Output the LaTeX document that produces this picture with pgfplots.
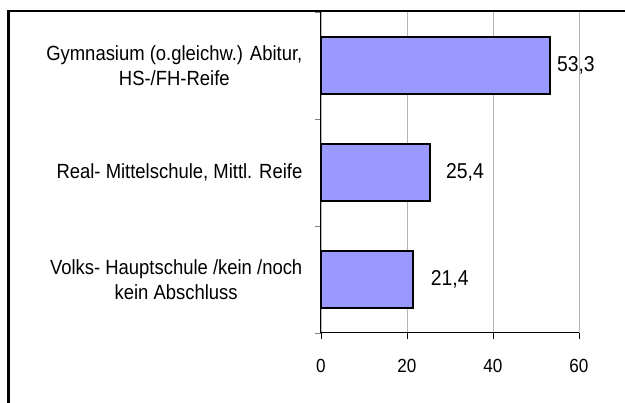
\documentclass[border=0pt]{standalone}
\usepackage{pgfplots}
\usepackage{pgfplotstable}
\pgfplotsset{compat=1.18}
\usepackage{fontspec}
\setmainfont{Liberation Sans}[FakeStretch=0.9]
\definecolor{barfill}{HTML}{9999FF}
\definecolor{gridgray}{HTML}{B4B4B4}
\pgfplotstableread{
y x off lab
1 53.3 6 53,3
2 25.4 15 25,4
3 21.4 17 21,4
}\datatab
\begin{document}
\begin{tikzpicture}
\path[use as bounding box] (0,0) rectangle (625pt,403pt);
\draw[line width=2.2pt] (8.5pt,0pt) -- (8.5pt,393pt);
\draw[line width=2.2pt] (7.5pt,392pt) -- (625pt,392pt);
\begin{axis}[
  at={(321pt,70pt)}, anchor=south west,
  scale only axis, width=258pt, height=321pt,
  xmin=0, xmax=60, ymin=0.5, ymax=3.5,
  y dir=reverse,
  axis lines*=left,
  axis line style={black, line width=1pt},
  xtick={0,20,40,60},
  xmajorgrids,
  grid style={gridgray, line width=0.8pt},
  ytick={1,2,3},
  yticklabels={{Gymnasium (o.gleichw.) Abitur,\\HS-/FH-Reife},{Real- Mittelschule, Mittl. Reife},{Volks- Hauptschule /kein /noch\\kein Abschluss}},
  minor ytick={0.5,1.5,2.5,3.5},
  tick align=outside,
  major tick length=6pt,
  minor tick length=6pt,
  y tick style={draw=none},
  minor y tick style={draw=gray, line width=0.8pt},
  x tick style={black, line width=0.8pt},
  /pgf/number format/assume math mode=true,
  xticklabel style={font=\fontsize{19}{22}\selectfont, inner sep=0pt, anchor=north, yshift=-20pt},
  yticklabel style={font=\fontsize{20.5}{25.6}\selectfont, align=center, inner sep=0pt, anchor=east, xshift=-12.5pt},
  xbar, bar width=57pt,
  point meta=explicit symbolic,
  nodes near coords={\pgfplotspointmeta},
  visualization depends on={\thisrow{off} \as \off},
  every node near coord/.append style={font=\fontsize{21.5}{24}\selectfont, anchor=west, inner sep=0pt, xshift=\off pt, text=black},
  clip=false,
]
\addplot[fill=barfill, draw=black, line width=1.8pt] table[x=x, y=y, meta=lab] {\datatab};
\end{axis}
\end{tikzpicture}
\end{document}
